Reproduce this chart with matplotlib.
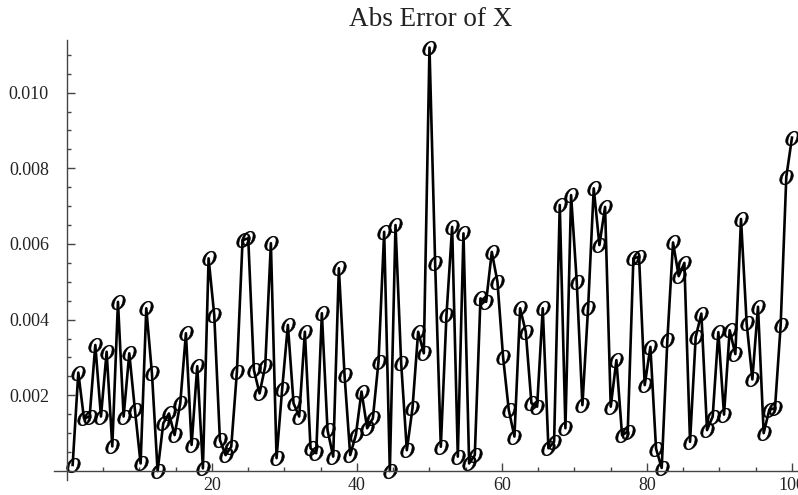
import numpy as np
import matplotlib
matplotlib.use("Agg")
import matplotlib.pyplot as plt
from matplotlib.ticker import FixedLocator, MultipleLocator

plt.rcParams['font.family'] = ['Liberation Serif', 'DejaVu Serif']
plt.rcParams['mathtext.fontset'] = 'stix'

# 128 samples spread over 0..100
n_pts = 128
x = np.arange(1, n_pts + 1) * 100.0 / n_pts

# absolute error, in units of 1e-3
err_milli = [
    0.16, 2.60, 1.39, 1.44, 3.33, 1.44, 3.15, 0.65, 4.47, 1.44,
    3.11, 1.61, 0.20, 4.30, 2.58, 0.00, 1.26, 1.52, 0.95, 1.79,
    3.64, 0.69, 2.77, 0.07, 5.62, 4.12, 0.82, 0.42, 0.64, 2.62,
    6.10, 6.15, 2.67, 2.05, 2.77, 6.02, 0.34, 2.18, 3.86, 1.79,
    1.44, 3.68, 0.60, 0.47, 4.17, 1.08, 0.38, 5.36, 2.54, 0.42,
    0.95, 2.10, 1.13, 1.39, 2.89, 6.32, 0.00, 6.50, 2.85, 0.55,
    1.66, 3.68, 3.11, 11.19, 5.49, 0.64, 4.12, 6.45, 0.38, 6.28,
    0.20, 0.42, 4.56, 4.47, 5.79, 5.00, 3.00, 1.61, 0.91, 4.30,
    3.68, 1.79, 1.70, 4.30, 0.60, 0.77, 7.03, 1.13, 7.29, 5.00,
    1.74, 4.30, 7.47, 5.97, 6.98, 1.70, 2.93, 0.95, 1.04, 5.62,
    5.66, 2.27, 3.28, 0.59, 0.08, 3.47, 6.04, 5.15, 5.50, 0.77,
    3.54, 4.16, 1.08, 1.44, 3.67, 1.49, 3.72, 3.09, 6.66, 3.90,
    2.42, 4.34, 1.00, 1.62, 1.66, 3.85, 7.78, 8.81,
]
err = np.array(err_milli) * 1e-3

x_major = [20, 40, 60, 80, 100]
y_major = [0.002, 0.004, 0.006, 0.008, 0.010]

fig = plt.figure(figsize=(7.98, 4.95), dpi=100)
ax = fig.add_axes([54 / 798, 15 / 495, 744 / 798, 440 / 495])

ax.plot(x, err, color='black', lw=1.9, marker='$O$', markersize=10.5,
        mfc='black', mec='black', mew=0.4, clip_on=False)

ax.set_xlim(-1.79, 100.83)
ax.set_ylim(-0.000238, 0.01139)

# Mathematica-like crossing axes
ax.spines['top'].set_visible(False)
ax.spines['right'].set_visible(False)
ax.spines['left'].set_position(('data', 0))
ax.spines['bottom'].set_position(('data', 0))
for s in ('left', 'bottom'):
    ax.spines[s].set_color('#444444')
    ax.spines[s].set_linewidth(1.0)

ax.xaxis.set_major_locator(FixedLocator(x_major))
ax.xaxis.set_minor_locator(MultipleLocator(5))
ax.yaxis.set_major_locator(FixedLocator(y_major))
ax.yaxis.set_minor_locator(MultipleLocator(0.0005))
ax.set_yticklabels(['%.3f' % v for v in y_major])

ax.tick_params(axis='both', which='both', direction='in', colors='#444444',
               labelcolor='#222222', labelsize=13, width=1.0)
ax.tick_params(axis='both', which='major', length=6)
ax.tick_params(axis='both', which='minor', length=3)
ax.tick_params(axis='x', which='major', pad=4)
ax.tick_params(axis='y', which='major', pad=13)

fig.text(431 / 798, 1 - 20 / 495, 'Abs Error of X', ha='center', va='center',
         fontsize=19.5, color='#222222')

fig.savefig('out.png', dpi=100)
